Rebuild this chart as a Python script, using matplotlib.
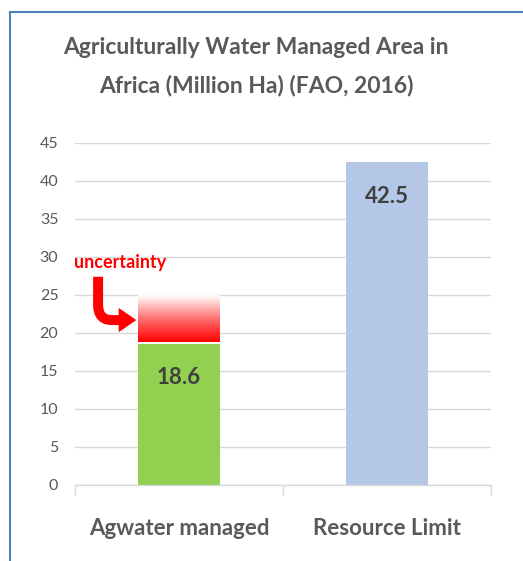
import matplotlib
matplotlib.use("Agg")
import matplotlib.pyplot as plt
import numpy as np
from matplotlib.colors import LinearSegmentedColormap
from matplotlib.lines import Line2D
from matplotlib.patches import PathPatch, Polygon
from matplotlib.path import Path

categories = ["Agwater managed", "Resource Limit"]
values = [18.6, 42.5]
value_labels = ["18.6", "42.5"]
uncertainty_top = 25.0
yticks = [0, 5, 10, 15, 20, 25, 30, 35, 40, 45]
title = "Agriculturally Water Managed Area in\nAfrica (Million Ha) (FAO, 2016)"

FONT = ["Lato", "DejaVu Sans"]
plt.rcParams['font.family'] = FONT

fig = plt.figure(figsize=(5.23, 5.61), dpi=100)
ax = fig.add_axes([75/523, 1-485/561, 416/523, 342/561])

bar_colors = ["#92d050", "#b4c7e7"]
x = np.arange(len(categories))
width = 0.39
ax.bar(x, values, width=width, color=bar_colors, zorder=2)

# uncertainty gradient
cmap = LinearSegmentedColormap.from_list("rg", ["#ff0000", "#ff7070", "#ffffff"])
grad = np.linspace(0, 1, 256).reshape(-1, 1)
ax.imshow(grad, cmap=cmap, origin="lower", aspect="auto",
          extent=[x[0]-width/2, x[0]+width/2, values[0]+0.25, uncertainty_top],
          zorder=2, interpolation="bicubic")

for xi, v, lab in zip(x, values, value_labels):
    ax.annotate(lab, (xi, v), xytext=(0, -17), textcoords="offset points",
                ha="center", va="top", fontsize=16, fontweight="bold",
                color="#404040", zorder=3)

ax.set_xlim(-0.5, 1.5)
ax.set_ylim(0, 45)
ax.set_yticks(yticks)
ax.set_yticklabels([str(t) for t in yticks])
ax.yaxis.grid(True, color="#d9d9d9", linewidth=1)
ax.set_axisbelow(True)
for s in ["top", "right", "left"]:
    ax.spines[s].set_visible(False)
ax.spines["bottom"].set_color("#d9d9d9")
ax.spines["bottom"].set_linewidth(1)
ax.tick_params(axis="y", length=0, pad=12, labelsize=11.5, labelcolor="#595959")
ax.set_xticks(x)
ax.set_xticklabels(categories, fontsize=16, fontweight="bold", color="#595959")
ax.tick_params(axis="x", which="major", length=0, pad=24)
ax.set_xticks([-0.5, 0.5, 1.5], minor=True)
ax.tick_params(axis="x", which="minor", length=7, color="#d9d9d9", width=1)

fig.text(0.49, 1-67/561, title, ha="center", va="center", fontsize=16.5,
         fontweight="bold", color="#595959", linespacing=1.95)

# uncertainty annotation
ax.text(-0.284, 29.3, "uncertainty", ha="center", va="center", fontsize=13,
        fontweight="bold", color="#ff0000")
verts = [(-0.389, 27.4), (-0.389, 23.7), (-0.389, 21.7), (-0.322, 21.7), (-0.28, 21.7)]
codes = [Path.MOVETO, Path.LINETO, Path.CURVE3, Path.CURVE3, Path.LINETO]
ax.add_patch(PathPatch(Path(verts, codes), fill=False, edgecolor="#ff0000",
                       lw=7.2, capstyle="butt", joinstyle="round", zorder=4))
ax.add_patch(Polygon([(-0.29, 23.3), (-0.29, 20.1), (-0.205, 21.7)], closed=True,
                     facecolor="#ff0000", edgecolor="none", zorder=4))

# frame lines
fig.add_artist(Line2D([10/523, 1], [1-12/561, 1-12/561], color="#4f81bd", lw=1.5))
fig.add_artist(Line2D([10/523, 10/523], [0, 1-12/561], color="#4f81bd", lw=1.5))

fig.savefig("out.png", dpi=100)
